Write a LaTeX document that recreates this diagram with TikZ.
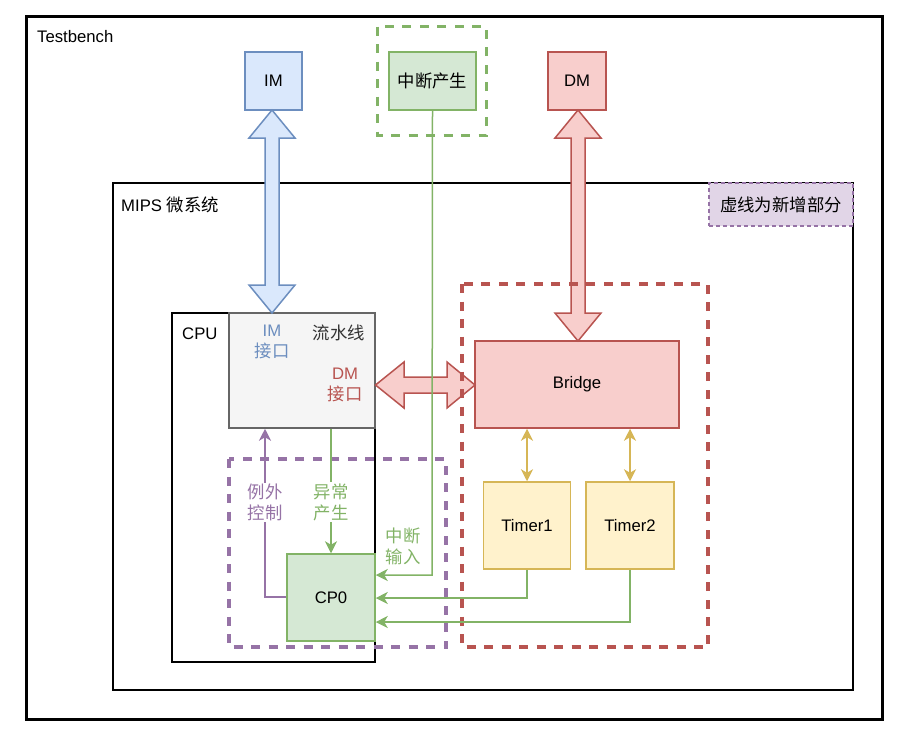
\documentclass[tikz,border=0pt]{standalone}
\usepackage{fontspec}
\setmainfont{Liberation Sans}
\newfontfamily\cjk[Scale=1.04]{Noto Sans CJK SC}
\usetikzlibrary{arrows.meta}
\definecolor{blueF}{HTML}{DAE8FC}\definecolor{blueS}{HTML}{6C8EBF}
\definecolor{greenF}{HTML}{D5E8D4}\definecolor{greenS}{HTML}{82B366}
\definecolor{redF}{HTML}{F8CECC}\definecolor{redS}{HTML}{B85450}
\definecolor{yelF}{HTML}{FFF2CC}\definecolor{yelS}{HTML}{D6B656}
\definecolor{purF}{HTML}{E1D5E7}\definecolor{purS}{HTML}{9673A6}
\definecolor{grayF}{HTML}{F5F5F5}\definecolor{grayS}{HTML}{666666}
\definecolor{txt}{HTML}{333333}
\tikzset{
  box/.style={draw, line width=1.5pt, inner sep=0pt, anchor=center},
  plain/.style={inner sep=0pt, align=center},
  newpart/.style={line width=3.2pt, dash pattern=on 9pt off 8.5pt},
  tip/.tip={Stealth[length=12pt,width=12pt,inset=3.5pt]},
  conn/.style={line width=1.5pt, -tip},
  bconn/.style={line width=1.5pt, tip-tip},
  blk/.style={line width=1.5pt, line join=miter}
}
\begin{document}
\begin{tikzpicture}[x=1pt,y=-1pt,font=\fontsize{16.7}{21}\selectfont]
\useasboundingbox (0,0) rectangle (907,732);
% containers
\draw[line width=3pt] (26.5,16.5) rectangle (882.5,719.5);
\node[plain, anchor=west] (tb) at (37,37) {Testbench};
\draw[line width=1.5pt, draw=black] (113,183) rectangle (853,690);
\node[plain, anchor=west] (mips) at (121,205) {MIPS {\cjk 微系统}};
\node[box, draw=purS, fill=purF, dash pattern=on 4pt off 3pt, minimum width=144pt, minimum height=43pt] (note) at (781,204.5) {\cjk 虚线为新增部分};
\draw[line width=1.5pt] (172,313) rectangle (375,662);
\node[plain, anchor=west] (cpu) at (182,334) {CPU};
% pipeline
\node[box, draw=grayS, fill=grayF, minimum width=146pt, minimum height=115pt] (pipe) at (302,370.5) {};
\node[plain, text=blueS] (imif) at (272,341.5) {IM\\{\cjk 接口}};
\node[plain, text=txt] (pl) at (339,333) {\cjk 流水线};
\node[plain, text=redS] (dmif) at (345,385) {DM\\{\cjk 接口}};
% memories
\node[box, draw=blueS, fill=blueF, minimum width=57pt, minimum height=58pt] (im) at (273.5,81) {IM};
\node[box, draw=redS, fill=redF, minimum width=58pt, minimum height=58pt] (dm) at (577,81) {DM};
\node[box, draw=greenS, fill=greenF, minimum width=87pt, minimum height=58pt] (intg) at (432.5,81) {\cjk 中断产生};
\draw[greenS, newpart] (377.5,26.5) rectangle (486.5,135.5);
% bridge and timers
\node[box, draw=redS, fill=redF, minimum width=204pt, minimum height=87pt] (bridge) at (577,384.5) {Bridge};
\node[box, draw=yelS, fill=yelF, minimum width=87pt, minimum height=87pt] (t1) at (527,525.5) {Timer1};
\node[box, draw=yelS, fill=yelF, minimum width=88pt, minimum height=87pt] (t2) at (630,525.5) {Timer2};
% CP0
\node[box, draw=greenS, fill=greenF, minimum width=88pt, minimum height=87pt] (cp0) at (331,597.5) {CP0};
% block arrows
\draw[blk, draw=blueS, fill=blueF] (272,110) -- (295,138) -- (279,138) -- (279,285) -- (295,285) -- (272,313) -- (249,285) -- (265,285) -- (265,138) -- (249,138) -- cycle;
\draw[blk, draw=redS, fill=redF] (578,110) -- (601,138) -- (585,138) -- (585,313) -- (601,313) -- (578,341) -- (555,313) -- (571,313) -- (571,138) -- (555,138) -- cycle;
\draw[blk, draw=redS, fill=redF] (375.5,385) -- (404,362) -- (404,377) -- (447,377) -- (447,362) -- (475,385) -- (447,408) -- (447,393) -- (404,393) -- (404,408) -- cycle;
% dashed groups
\draw[redS, newpart] (462,284) rectangle (708,647);
\draw[purS, newpart] (229,459) rectangle (446,647);
% connectors
\draw[bconn, yelS] (bridge.south -| t1.north) -- (t1.north);
\draw[bconn, yelS] (bridge.south -| t2.north) -- (t2.north);
\coordinate (k1) at (527,598);
\coordinate (k2) at (630,622);
\draw[conn, greenS] (t1.south) -- (k1) -- (k1 -| cp0.east);
\draw[conn, greenS] (t2.south) -- (k2) -- (k2 -| cp0.east);
\coordinate (k3) at (432,575);
\draw[conn, greenS] (intg.south) -- (k3) -- (k3 -| cp0.east);
\node[plain, text=greenS] (intin) at (403,546) {\cjk 中断\\\cjk 输入};
\draw[conn, greenS] (pipe.south -| cp0.north) -- (cp0.north);
\node[plain, text=greenS, fill=white, inner sep=1pt] (exc) at (331,502) {\cjk 异常\\\cjk 产生};
\coordinate (k4) at (265,597);
\draw[conn, purS] (cp0.west |- k4) -- (k4) -- (k4 |- pipe.south);
\node[plain, text=purS, fill=white, inner sep=1pt] (ctl) at (265,502) {\cjk 例外\\\cjk 控制};
\end{tikzpicture}
\end{document}
